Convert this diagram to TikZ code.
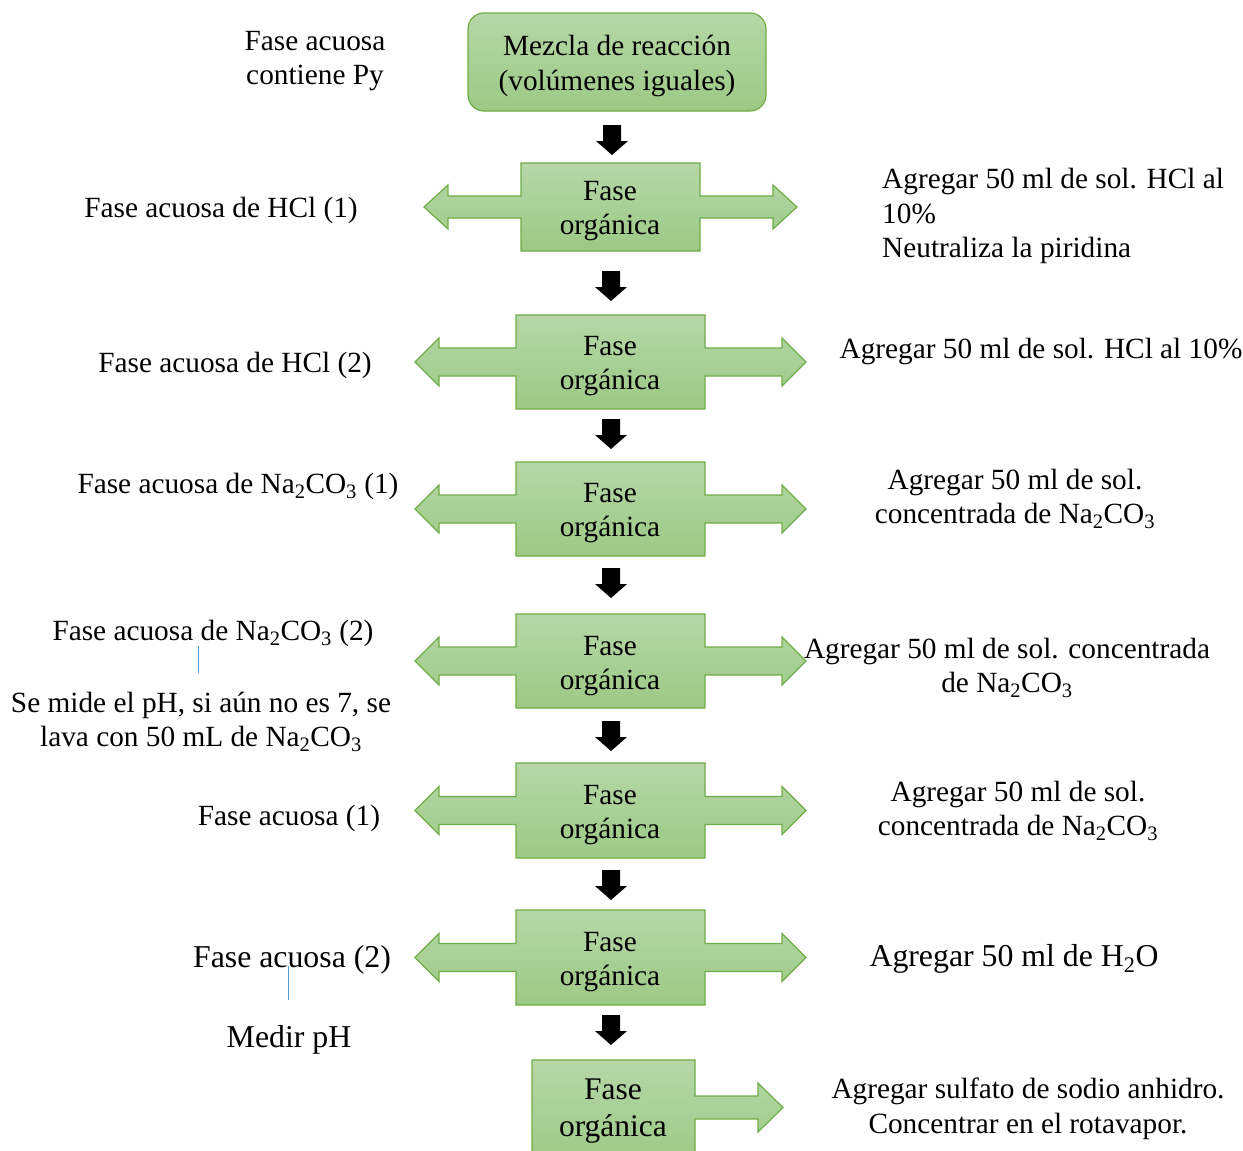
\documentclass[tikz,border=0pt]{standalone}
\usepackage{fontspec}
\setmainfont{Liberation Serif}
\usetikzlibrary{calc}
\definecolor{gtop}{HTML}{B6D7A8}
\definecolor{gbot}{HTML}{9CC985}
\definecolor{gline}{HTML}{70AD47}
\definecolor{bluelink}{HTML}{5B9BD5}

% green block with a left and a right arrow:
% #1 centre y, #2 half height, #3 left edge, #4 right edge,
% #5 shaft half width, #6 head half width, #7 shaft length, #8 head length
\newcommand\lrcallout[8]{%
  \path[greenshape] (#3,#1-#2) -- (#4,#1-#2) -- (#4,#1-#5) -- (#4+#7,#1-#5)
    -- (#4+#7,#1-#6) -- (#4+#7+#8,#1) -- (#4+#7,#1+#6) -- (#4+#7,#1+#5)
    -- (#4,#1+#5) -- (#4,#1+#2) -- (#3,#1+#2) -- (#3,#1+#5) -- (#3-#7,#1+#5)
    -- (#3-#7,#1+#6) -- (#3-#7-#8,#1) -- (#3-#7,#1-#6) -- (#3-#7,#1-#5)
    -- (#3,#1-#5) -- cycle;}

\newcommand\sub[1]{\textsubscript{#1}}

\begin{document}
\begin{tikzpicture}[x=1pt,y=-1pt,
  txt/.style={inner sep=0pt, align=center, font=\fontsize{29.3}{34.5}\selectfont},
  bigtxt/.style={inner sep=0pt, align=center, font=\fontsize{31.8}{37}\selectfont},
  greenshape/.style={top color=gtop, bottom color=gbot, draw=gline, line width=1.2pt, line join=miter},
  pics/blockdown/.style={code={\fill[black] (-9,0) -- (9,0) -- (9,16) -- (16,16) -- (0,30) -- (-16,16) -- (-9,16) -- cycle;}},
  link/.style={draw=bluelink, line width=1pt}]
\useasboundingbox (0,0) rectangle (1243,1151);

% start of the process
\node[greenshape, rounded corners=16pt, minimum width=298pt, minimum height=98pt] (mix) at (617,62) {};
\node[txt] (mixt) at ($(mix.center)+(0,4)$) {Mezcla de reacción\\(volúmenes iguales)};

% separation stages
\lrcallout{207}{44}{521}{700}{11}{22}{73}{24}
\lrcallout{362}{47}{516}{705}{14}{24}{77}{24}
\lrcallout{509}{47}{516}{705}{14}{24}{77}{24}
\lrcallout{661}{47}{516}{705}{14}{24}{77}{24}
\lrcallout{810.5}{47.5}{516}{705}{14}{24}{77}{24}
\lrcallout{957.5}{47.5}{516}{705}{14}{24}{77}{24}
% last stage: right arrow only
\path[greenshape] (532,1060) -- (695,1060) -- (695,1096) -- (758,1096) -- (758,1083)
  -- (783,1107.5) -- (758,1132) -- (758,1119) -- (695,1119) -- (695,1165)
  -- (532,1165) -- cycle;

% flow arrows between the stages
\coordinate (d1) at (612,125);
\coordinate (d2) at (611,271);
\coordinate (d3) at (611,419);
\coordinate (d4) at (611,568);
\coordinate (d5) at (611,721);
\coordinate (d6) at (611,870);
\coordinate (d7) at (611,1015);
\foreach \d in {d1,d2,d3,d4,d5,d6,d7} \pic at (\d) {blockdown};

\begin{scope}[shift={(0,3)}]
\node[txt] (o1) at (610,208) {Fase\\orgánica};
\node[txt] (o2) at (610,363) {Fase\\orgánica};
\node[txt] (o3) at (610,510) {Fase\\orgánica};
\node[txt] (o4) at (610,663) {Fase\\orgánica};
\node[txt] (o5) at (610,812) {Fase\\orgánica};
\node[txt] (o6) at (610,959) {Fase\\orgánica};
\node[inner sep=0pt, align=center, font=\fontsize{31.5}{37}\selectfont] (o7) at (613,1108) {Fase\\orgánica};

% left side: aqueous phases
\node[txt] (py) at (315,58) {Fase acuosa\\contiene Py};
\node[txt] (l1) at (221,207) {Fase acuosa de HCl (1)};
\node[txt] (l2) at (235,362) {Fase acuosa de HCl (2)};
\node[txt] (l3) at (238,483) {Fase acuosa de Na\sub{2}CO\sub{3} (1)};
\node[txt] (l4) at (213,630) {Fase acuosa de Na\sub{2}CO\sub{3} (2)};
\node[txt] (l4b) at (201,719) {Se mide el pH, si aún no es 7, se\\lava con 50 mL de Na\sub{2}CO\sub{3}};
\node[txt] (l5) at (289,815) {Fase acuosa (1)};
\node[bigtxt] (l6) at (292,957) {Fase acuosa (2)};
\node[bigtxt] (l6b) at (289,1037) {Medir pH};

% right side: reagents added
\node[txt, align=left, anchor=west] (r1) at (882,213) {Agregar 50 ml de sol. HCl al\\10\%\\Neutraliza la piridina};
\node[txt] (r2) at (1041,348) {Agregar 50 ml de sol. HCl al 10\%};
\node[txt] (r3) at (1015,496) {Agregar 50 ml de sol.\\concentrada de Na\sub{2}CO\sub{3}};
\node[txt] (r4) at (1007,665) {Agregar 50 ml de sol. concentrada\\de Na\sub{2}CO\sub{3}};
\node[txt] (r5) at (1018,808) {Agregar 50 ml de sol.\\concentrada de Na\sub{2}CO\sub{3}};
\node[bigtxt] (r6) at (1014,956) {Agregar 50 ml de H\sub{2}O};
\node[txt] (r7) at (1028,1106) {Agregar sulfato de sodio anhidro.\\Concentrar en el rotavapor.};
\end{scope}

% thin links between notes on the left
\draw[link] ($(l4.south)+(-15,0)$) coordinate (k1) -- (k1 |- {$(l4b.north)+(0,-19)$});
\draw[link] ($(l6.center)+(-4,6)$) coordinate (k2) -- (k2 |- {$(l6b.north)+(0,-25)$});
\end{tikzpicture}
\end{document}
